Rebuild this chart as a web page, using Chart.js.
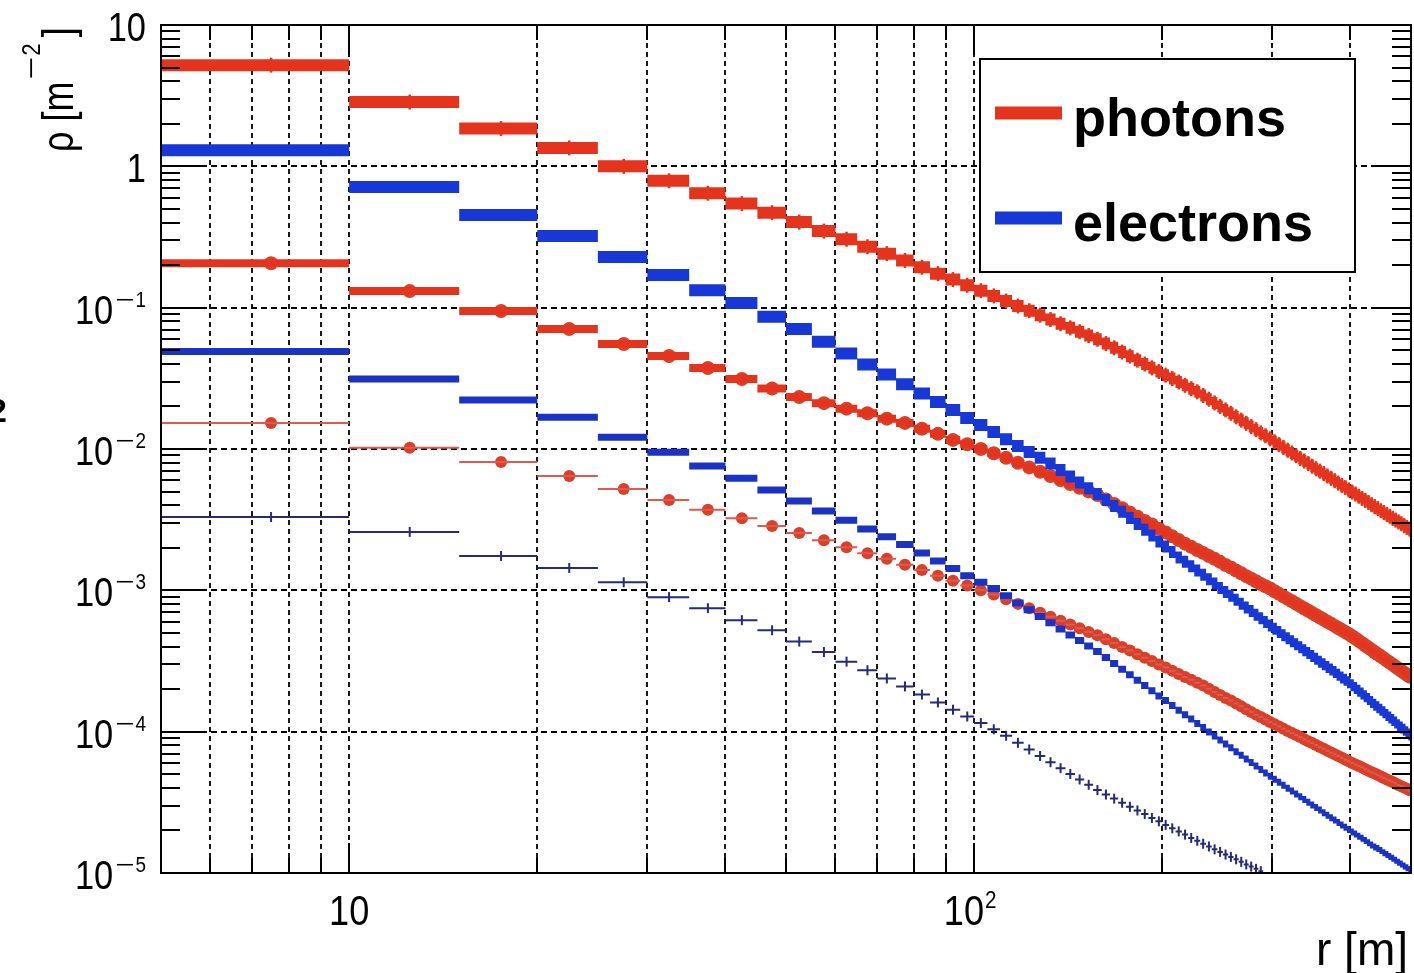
<!DOCTYPE html>
<html>
<head>
<meta charset="utf-8">
<script src="https://cdn.jsdelivr.net/npm/chart.js@4.4.1/dist/chart.umd.min.js"></script>
<style>
  html, body { margin: 0; padding: 0; background: #ffffff; }
  #wrap { width: 1414px; height: 973px; position: relative; }
</style>
</head>
<body>
<div id="wrap"><canvas id="c"></canvas></div>
<script>
// Radial bin edges r [m] (5 m wide bins)
const rEdges = [5,10,15,20,25,30,35,40,45,50,55,60,65,70,75,80,85,90,95,100,
  105,110,115,120,125,130,135,140,145,150,155,160,165,170,175,180,185,190,195,200,
  205,210,215,220,225,230,235,240,245,250,255,260,265,270,275,280,285,290,295,300,
  305,310,315,320,325,330,335,340,345,350,355,360,365,370,375,380,385,390,395,400,
  405,410,415,420,425,430,435,440,445,450,455,460,465,470,475,480,485,490,495,500];

// Density rho [m^-2] per bin, three sample sets for each particle type
const photons1 = [5.2, 2.85, 1.85, 1.35, 1.0, 0.79, 0.645, 0.545, 0.47, 0.403,
  0.348, 0.305, 0.270, 0.241, 0.216, 0.193, 0.174, 0.158, 0.144, 0.132,
  0.121, 0.1114, 0.1028, 0.0952, 0.0885, 0.0824, 0.0769, 0.0720, 0.0676, 0.0635,
  0.0598, 0.0557, 0.0520, 0.0485, 0.0454, 0.0425, 0.0399, 0.0375, 0.0353, 0.0333,
  0.0315, 0.0298, 0.0282, 0.0267, 0.0254, 0.0239, 0.0225, 0.0212, 0.0200, 0.0189,
  0.0179, 0.0169, 0.0160, 0.0152, 0.0144, 0.0137, 0.0130, 0.0124, 0.0118, 0.01125,
  0.01074, 0.01025, 0.00980, 0.00937, 0.00896, 0.00857, 0.00822, 0.00788, 0.00755, 0.00725,
  0.00697, 0.00670, 0.00644, 0.00620, 0.00597, 0.00574, 0.00553, 0.00533, 0.00514, 0.00496,
  0.00480, 0.00463, 0.00447, 0.00432, 0.00418, 0.00404, 0.00391, 0.00379, 0.00366, 0.00355,
  0.00344, 0.00334, 0.00323, 0.00314, 0.00305, 0.00296, 0.00287, 0.00279, 0.00271];

const electrons1 = [1.30, 0.715, 0.453, 0.321, 0.228, 0.170, 0.133, 0.108, 0.0863, 0.0706,
  0.0573, 0.0473, 0.0396, 0.0336, 0.0287, 0.0247, 0.0215, 0.0189, 0.0166, 0.0148,
  0.0132, 0.0117, 0.0105, 0.00954, 0.00866, 0.00789, 0.00710, 0.00640, 0.00580, 0.00527,
  0.00481, 0.00435, 0.00395, 0.00360, 0.00325, 0.00295, 0.00268, 0.00244, 0.00222, 0.00204,
  0.00187, 0.00171, 0.00159, 0.00148, 0.00138, 0.00129, 0.00120, 0.00112, 0.00104, 0.000975,
  0.000914, 0.000857, 0.000805, 0.000757, 0.000713, 0.000672, 0.000634, 0.000598, 0.000565, 0.000535,
  0.000508, 0.000482, 0.000458, 0.000436, 0.000415, 0.000395, 0.000377, 0.000360, 0.000343, 0.000328,
  0.000313, 0.000300, 0.000287, 0.000275, 0.000264, 0.000253, 0.000242, 0.000233, 0.000224, 0.000213,
  0.000204, 0.000195, 0.000186, 0.000178, 0.000170, 0.000162, 0.000155, 0.000149, 0.000143, 0.000137,
  0.000131, 0.000126, 0.000121, 0.000116, 0.000111, 0.000107, 0.000103, 0.0000990, 0.0000953];

const photons2 = [0.206, 0.131, 0.0946, 0.0706, 0.0553, 0.0455, 0.0374, 0.0313, 0.0268, 0.0233,
  0.0211, 0.0193, 0.0179, 0.0164, 0.0153, 0.0139, 0.0128, 0.0116, 0.0108, 0.0100,
  0.00933, 0.00866, 0.00800, 0.00741, 0.00690, 0.00644, 0.00602, 0.00565, 0.00531, 0.00501,
  0.00472, 0.00439, 0.00408, 0.00381, 0.00355, 0.00332, 0.00310, 0.00292, 0.00273, 0.00257,
  0.00241, 0.00227, 0.00214, 0.00203, 0.00193, 0.00184, 0.00175, 0.00167, 0.00159, 0.00151,
  0.00145, 0.00138, 0.00132, 0.00126, 0.00121, 0.00116, 0.00111, 0.00107, 0.00103, 0.000984,
  0.000944, 0.000906, 0.000870, 0.000836, 0.000804, 0.000773, 0.000744, 0.000717, 0.000691, 0.000667,
  0.000643, 0.000621, 0.000599, 0.000579, 0.000560, 0.000541, 0.000524, 0.000507, 0.000491, 0.000473,
  0.000456, 0.000439, 0.000423, 0.000407, 0.000393, 0.000379, 0.000365, 0.000353, 0.000341, 0.000330,
  0.000318, 0.000308, 0.000298, 0.000288, 0.000279, 0.000270, 0.000261, 0.000253, 0.000245];

const electrons2 = [0.049, 0.0313, 0.0222, 0.0168, 0.0121, 0.0095, 0.00757, 0.00622, 0.00513, 0.00429,
  0.00364, 0.00313, 0.00272, 0.00239, 0.00211, 0.00184, 0.00161, 0.00143, 0.00127, 0.00114,
  0.00103, 0.000916, 0.000815, 0.000728, 0.000653, 0.000589, 0.000533, 0.000484, 0.000441, 0.000403,
  0.000369, 0.000335, 0.000304, 0.000277, 0.000253, 0.000231, 0.000212, 0.000195, 0.000179, 0.000166,
  0.000153, 0.000142, 0.000132, 0.000123, 0.000114, 0.000107, 0.0000995, 0.0000931, 0.0000872, 0.0000818,
  0.0000768, 0.0000722, 0.0000680, 0.0000641, 0.0000604, 0.0000571, 0.0000540, 0.0000511, 0.0000484, 0.0000460,
  0.0000438, 0.0000417, 0.0000398, 0.0000380, 0.0000362, 0.0000346, 0.0000331, 0.0000317, 0.0000303, 0.0000291,
  0.0000279, 0.0000267, 0.0000256, 0.0000246, 0.0000237, 0.0000228, 0.0000219, 0.0000211, 0.0000203, 0.0000195,
  0.0000189, 0.0000182, 0.0000176, 0.0000170, 0.0000164, 0.0000158, 0.0000153, 0.0000149, 0.0000144, 0.0000139,
  0.0000135, 0.0000131, 0.0000127, 0.0000123, 0.0000119, 0.0000116, 0.0000112, 0.0000109, 0.0000106];

const photons3 = [0.0153, 0.0102, 0.0081, 0.00645, 0.00522, 0.00436, 0.00372, 0.00324, 0.00285, 0.00254,
  0.00226, 0.00202, 0.00183, 0.00167, 0.00152, 0.00139, 0.00127, 0.00117, 0.00108, 0.00100,
  0.000933, 0.000866, 0.000802, 0.000746, 0.000695, 0.000650, 0.000610, 0.000573, 0.000540, 0.000508,
  0.000481, 0.000451, 0.000424, 0.000398, 0.000375, 0.000353, 0.000334, 0.000316, 0.000299, 0.000284,
  0.000270, 0.000256, 0.000244, 0.000233, 0.000222, 0.000212, 0.000201, 0.000191, 0.000182, 0.000173,
  0.000166, 0.000158, 0.000151, 0.000144, 0.000138, 0.000132, 0.000127, 0.000122, 0.000117, 0.000113,
  0.000109, 0.000105, 0.000101, 0.0000979, 0.0000946, 0.0000916, 0.0000885, 0.0000857, 0.0000830, 0.0000805,
  0.0000780, 0.0000757, 0.0000734, 0.0000713, 0.0000692, 0.0000673, 0.0000653, 0.0000635, 0.0000618, 0.0000601,
  0.0000586, 0.0000571, 0.0000557, 0.0000543, 0.0000530, 0.0000517, 0.0000505, 0.0000493, 0.0000481, 0.0000470,
  0.0000459, 0.0000449, 0.0000440, 0.0000430, 0.0000420, 0.0000411, 0.0000402, 0.0000394, 0.0000385];

// Bins further out fall below the 1e-5 floor of the plot
const electrons3 = [3.3e-3, 2.59e-3, 1.75e-3, 1.44e-3, 1.14e-3, 8.95e-4, 7.48e-4, 6.15e-4, 5.22e-4, 4.34e-4,
  3.66e-4, 3.13e-4, 2.72e-4, 2.38e-4, 2.09e-4, 1.83e-4, 1.61e-4, 1.43e-4, 1.28e-4, 1.15e-4,
  1.04e-4, 9.35e-5, 8.34e-5, 7.48e-5, 6.73e-5, 6.08e-5, 5.52e-5, 5.02e-5, 4.59e-5, 4.21e-5,
  3.86e-5, 3.59e-5, 3.36e-5, 3.14e-5, 2.94e-5, 2.77e-5, 2.61e-5, 2.45e-5, 2.32e-5, 2.19e-5,
  2.07e-5, 1.97e-5, 1.87e-5, 1.77e-5, 1.69e-5, 1.61e-5, 1.54e-5, 1.47e-5, 1.41e-5, 1.35e-5,
  1.30e-5, 1.25e-5, 1.20e-5, 1.15e-5, 1.11e-5, 1.07e-5, 1.03e-5];

// Axis ticks and labels
const xRange = [5, 500];
const yRange = [1e-5, 10];
const xMajorTicks = [10, 100];
const xMajorLabels = [['10', ''], ['10', '2']];
const xMinorTicks = [6, 7, 8, 9, 20, 30, 40, 50, 60, 70, 80, 90, 200, 300, 400];
const yMajorTicks = [1e-5, 1e-4, 1e-3, 1e-2, 1e-1, 1, 10];
const yMajorLabels = [['10', '\u22125'], ['10', '\u22124'], ['10', '\u22123'], ['10', '\u22122'], ['10', '\u22121'], ['1', ''], ['10', '']];
const yMinorSteps = [2, 3, 4, 5, 6, 7, 8, 9];
const legendLabels = ['photons', 'electrons'];
const xTitle = 'r [m]';
const yTitleParts = ['\u03c1 [m', '\u22122', ']'];

const RED = '#e5341d';
const RED_DOT = '#d8402a';
const RED_THIN = '#de5a4e';
const BLUE = '#1738d6';
const BLUE2 = '#1a33c4';
const NAVY = '#262a78';
const FONT = '"Liberation Sans", Arial, Helvetica, sans-serif';
const MINUS = '\u2212';

// Each bin becomes a horizontal segment spanning its edges
function stepData(vals) {
  const pts = [];
  vals.forEach((v, i) => {
    if (v == null) return;
    pts.push({ x: rEdges[i], y: v }, { x: rEdges[i + 1], y: v }, { x: rEdges[i + 1], y: null });
  });
  return pts;
}
// Marker at the (linear) bin centre
function centreData(vals) {
  const pts = [];
  vals.forEach((v, i) => {
    if (v == null) return;
    pts.push({ x: (rEdges[i] + rEdges[i + 1]) / 2, y: v });
  });
  return pts;
}

function stepSet(label, vals, color, width) {
  return { type: 'line', label, data: stepData(vals), borderColor: color, backgroundColor: color,
    borderWidth: width, pointRadius: 0, spanGaps: false, tension: 0, borderCapStyle: 'butt' };
}
function markerSet(label, vals, color, radius, style, rotation, bw) {
  return { type: 'line', label, data: centreData(vals), showLine: false, pointStyle: style || 'circle',
    pointRadius: radius, pointRotation: rotation || 0, pointBackgroundColor: color, pointBorderColor: color,
    pointBorderWidth: bw || 0, borderColor: color, backgroundColor: color };
}

function setFont(ctx, size, weight) { ctx.font = (weight ? weight + ' ' : '') + size + 'px ' + FONT; }
function textW(ctx, s, size, sx, weight) {
  ctx.save(); setFont(ctx, size, weight); const w = ctx.measureText(s).width * sx; ctx.restore(); return w;
}
function drawText(ctx, s, x, y, size, sx, weight) {
  ctx.save(); setFont(ctx, size, weight); ctx.translate(x, y); ctx.scale(sx, 1);
  ctx.textAlign = 'left'; ctx.textBaseline = 'alphabetic'; ctx.fillStyle = '#000';
  ctx.fillText(s, 0, 0); ctx.restore();
}
// Exponents: long minus sign followed by narrow digits
function supW(ctx, s, size, sx) {
  if (s.startsWith(MINUS)) return textW(ctx, MINUS, size, 1.5) + 1 + textW(ctx, s.slice(1), size, sx);
  return textW(ctx, s, size, sx);
}
function drawSup(ctx, s, x, y, size, sx) {
  if (s.startsWith(MINUS)) {
    drawText(ctx, MINUS, x, y, size, 1.5);
    drawText(ctx, s.slice(1), x + textW(ctx, MINUS, size, 1.5) + 1, y, size, sx);
  } else {
    drawText(ctx, s, x, y, size, sx);
  }
}

const framePlugin = {
  id: 'rootFrame',
  beforeDatasetsDraw(chart) {
    const { ctx, chartArea: a, scales: { x, y } } = chart;
    ctx.save();
    ctx.strokeStyle = '#000';
    ctx.lineWidth = 1.8;
    ctx.setLineDash([5, 4]);
    xMinorTicks.concat(xMajorTicks).forEach(v => {
      const px = Math.round(x.getPixelForValue(v));
      ctx.beginPath(); ctx.moveTo(px, a.top); ctx.lineTo(px, a.bottom); ctx.stroke();
    });
    ctx.setLineDash([6, 4]);
    yMajorTicks.forEach(v => {
      const py = Math.round(y.getPixelForValue(v));
      if (py <= a.top + 1 || py >= a.bottom - 1) return;
      ctx.beginPath(); ctx.moveTo(a.left, py); ctx.lineTo(a.right, py); ctx.stroke();
    });
    ctx.restore();
  },
  afterDatasetsDraw(chart) {
    const { ctx, chartArea: a, scales: { x, y } } = chart;
    ctx.save();
    ctx.strokeStyle = '#000';
    ctx.lineWidth = 2;
    ctx.setLineDash([]);
    // frame
    ctx.strokeRect(a.left, a.top, a.right - a.left, a.bottom - a.top);
    // y ticks, left and mirrored right
    const tick = (x1, y1, x2, y2) => { ctx.beginPath(); ctx.moveTo(x1, y1); ctx.lineTo(x2, y2); ctx.stroke(); };
    yMajorTicks.forEach(v => {
      const py = Math.round(y.getPixelForValue(v));
      tick(a.left, py, a.left + 40, py); tick(a.right, py, a.right - 40, py);
    });
    yMajorTicks.slice(0, -1).forEach(d => {
      yMinorSteps.forEach(k => {
        const py = Math.round(y.getPixelForValue(k * d));
        tick(a.left, py, a.left + 19, py); tick(a.right, py, a.right - 19, py);
      });
    });
    // x ticks, bottom and mirrored top
    xMajorTicks.forEach(v => {
      const px = Math.round(x.getPixelForValue(v));
      tick(px, a.bottom, px, a.bottom - 30); tick(px, a.top, px, a.top + 30);
    });
    xMinorTicks.forEach(v => {
      const px = Math.round(x.getPixelForValue(v));
      tick(px, a.bottom, px, a.bottom - 15); tick(px, a.top, px, a.top + 15);
    });

    // y tick labels (right aligned, exponent as superscript)
    const SX = 0.86;
    yMajorTicks.forEach((v, i) => {
      const [base, exp] = yMajorLabels[i];
      const py = y.getPixelForValue(v);
      const right = a.left - 15;
      const ew = exp ? supW(ctx, exp, 22, SX) : 0;
      const bw = textW(ctx, base, 40, SX);
      const bx = right - ew - (exp ? 2 : 0) - bw;
      drawText(ctx, base, bx, py + 16, 40, SX);
      if (exp) drawSup(ctx, exp, right - ew, py - 1, 22, SX);
    });
    // x tick labels
    xMajorTicks.forEach((v, i) => {
      const [base, exp] = xMajorLabels[i];
      const px = x.getPixelForValue(v);
      const bw = textW(ctx, base, 42, SX);
      const ew = exp ? supW(ctx, exp, 24, SX) : 0;
      const total = bw + ew + (exp ? 1 : 0);
      const bx = px - total / 2 - (exp ? 4 : 0);
      drawText(ctx, base, bx, a.bottom + 52, 42, SX);
      if (exp) drawSup(ctx, exp, bx + bw + 1, a.bottom + 35, 24, SX);
    });

    // axis titles
    const tw = textW(ctx, xTitle, 46, 1);
    drawText(ctx, xTitle, 1408 - tw, 965, 46, 1);

    ctx.save();
    ctx.translate(73, 152);
    ctx.rotate(-Math.PI / 2);
    const TS = 0.8;
    let tx = 0;
    drawText(ctx, yTitleParts[0], tx, 0, 45, TS);
    tx += textW(ctx, yTitleParts[0], 45, TS) + 2;
    drawSup(ctx, yTitleParts[1], tx, -33, 26, 0.86);
    tx += supW(ctx, yTitleParts[1], 26, 0.86) + 6;
    drawText(ctx, yTitleParts[2], tx, 0, 45, TS);
    ctx.restore();

    // fragment of a neighbouring panel label at the left edge
    drawText(ctx, '2', -12, 422, 34, 1, 'bold');

    // legend box
    const lx = 980, ly = 59, lw = 375, lh = 213;
    ctx.fillStyle = '#fff';
    ctx.fillRect(lx, ly, lw, lh);
    ctx.lineWidth = 2;
    ctx.strokeStyle = '#000';
    ctx.strokeRect(lx, ly, lw, lh);
    const legendColors = [RED, BLUE];
    const rowsY = [113, 218];
    legendLabels.forEach((lab, i) => {
      ctx.strokeStyle = legendColors[i];
      ctx.lineWidth = 13;
      ctx.beginPath(); ctx.moveTo(995, rowsY[i]); ctx.lineTo(1062, rowsY[i]); ctx.stroke();
      drawText(ctx, lab, 1073, rowsY[i] + 23, 54, 1.0, 'bold');
    });
    ctx.restore();
  }
};

const chart = new Chart(document.getElementById('c'), {
  type: 'line',
  data: {
    datasets: [
      stepSet('electrons', electrons1, BLUE, 12),
      stepSet('electrons', electrons2, BLUE2, 7),
      stepSet('electrons', electrons3, NAVY, 2),
      markerSet('electrons', electrons3, NAVY, 5, 'line', 90, 2),
      stepSet('photons', photons1, RED, 12),
      markerSet('photons', photons1, RED, 7.5, 'line', 90, 2.5),
      stepSet('photons', photons2, RED, 8),
      markerSet('photons', photons2, RED_DOT, 7),
      stepSet('photons', photons3, RED_THIN, 2),
      markerSet('photons', photons3, RED_DOT, 6)
    ]
  },
  options: {
    responsive: true,
    maintainAspectRatio: false,
    animation: false,
    events: [],
    layout: { autoPadding: false, padding: { left: 161, top: 25, right: 3, bottom: 100 } },
    scales: {
      x: { type: 'logarithmic', min: xRange[0], max: xRange[1], display: false },
      y: { type: 'logarithmic', min: yRange[0], max: yRange[1], display: false }
    },
    plugins: { legend: { display: false }, tooltip: { enabled: false } }
  },
  plugins: [framePlugin]
});
</script>
</body>
</html>
